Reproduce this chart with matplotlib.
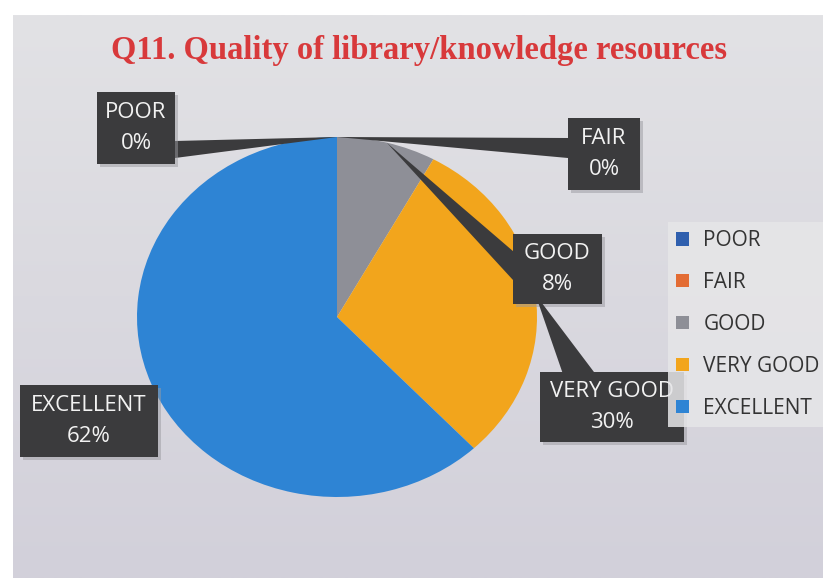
import numpy as np
import matplotlib.pyplot as plt
from matplotlib.patches import Polygon, Rectangle

categories = ['POOR', 'FAIR', 'GOOD', 'VERY GOOD', 'EXCELLENT']
values = [0, 0, 8, 30, 62]
pct_labels = ['0%', '0%', '8%', '30%', '62%']
slice_colors = ['#2f5fae', '#e36c34', '#8e8f97', '#f2a51c', '#2e84d4']
title = 'Q11. Quality of library/knowledge resources'

W, H = 823, 582
fig = plt.figure(figsize=(W / 100, H / 100), dpi=100, facecolor='white')

# background panel (pixel coords)
bg = fig.add_axes([0, 0, 1, 1], zorder=0)
bg.set_xlim(0, W)
bg.set_ylim(H, 0)
bg.axis('off')
grad = np.linspace(0, 1, 256).reshape(-1, 1)
c_top = np.array([0xe2, 0xe2, 0xe5]) / 255
c_bot = np.array([0xd2, 0xd0, 0xda]) / 255
img = c_top + (c_bot - c_top) * grad[..., None]
bg.imshow(img, extent=(13, W, 578, 15), aspect='auto', interpolation='bilinear')

# pie
cx, cy, rx, ry = 337, 317, 200, 180
pie_ax = fig.add_axes([(cx - rx) / W, 1 - (cy + ry) / H, 2 * rx / W, 2 * ry / H], zorder=1)
wedges, _ = pie_ax.pie(values, colors=slice_colors, startangle=90, counterclock=False,
                       radius=1, wedgeprops=dict(linewidth=0))
pie_ax.set_aspect('auto')
pie_ax.set_xlim(-1, 1)
pie_ax.set_ylim(-1, 1)
pie_ax.axis('off')

# overlay for title, callouts
ov = fig.add_axes([0, 0, 1, 1], zorder=2)
ov.set_xlim(0, W)
ov.set_ylim(H, 0)
ov.axis('off')
ov.patch.set_alpha(0)

ov.text(419, 50, title, ha='center', va='center', fontsize=23.5, fontweight='bold',
        family='Liberation Serif', color='#d8393b')


def edge_point(w):
    ang = np.deg2rad((w.theta1 + w.theta2) / 2)
    d = pie_ax.transData.transform((np.cos(ang), np.sin(ang)))
    return ov.transData.inverted().transform(d)


box_c = '#3b3b3d'
boxes = {
    'POOR': (97, 92, 78, 72),
    'FAIR': (568, 118, 72, 72),
    'GOOD': (513, 234, 89, 70),
    'VERY GOOD': (540, 372, 144, 70),
    'EXCELLENT': (20, 385, 138, 72),
}
leader_base = {
    'POOR': [(175, 141), (175, 158)],
    'FAIR': [(568, 138), (568, 158)],
    'GOOD': [(513, 280), (528, 264)],
    'VERY GOOD': [(565, 380), (600, 380)],
}

for w, cat, pct in zip(wedges, categories, pct_labels):
    x0, y0, bw, bh = boxes[cat]
    if cat in leader_base:
        ap = edge_point(w)
        ov.add_patch(Polygon([tuple(ap)] + leader_base[cat], closed=True,
                             fc=box_c, ec='none', zorder=3))
    ov.add_patch(Rectangle((x0 + 3, y0 + 3), bw, bh, fc='#9a9aa0', ec='none', alpha=0.5, zorder=3))
    ov.add_patch(Rectangle((x0, y0), bw, bh, fc=box_c, ec='none', zorder=4))
    ov.text(x0 + bw / 2, y0 + bh / 2, cat + '\n' + pct, ha='center', va='center',
            fontsize=16, family='Open Sans', color='#f2f2f2', linespacing=1.6, zorder=5)

fig.legend(wedges, categories, loc='upper left', bbox_to_anchor=(668 / W, 1 - 222 / H),
           frameon=True, facecolor='#e6e6e8', edgecolor='none', framealpha=0.85,
           fancybox=False, labelspacing=1.0, handlelength=0.6, handleheight=0.6,
           handletextpad=0.7, borderpad=0.4, borderaxespad=0,
           prop={'family': 'Open Sans', 'size': 15}, labelcolor='#333333')

fig.savefig('out.png', dpi=100)
